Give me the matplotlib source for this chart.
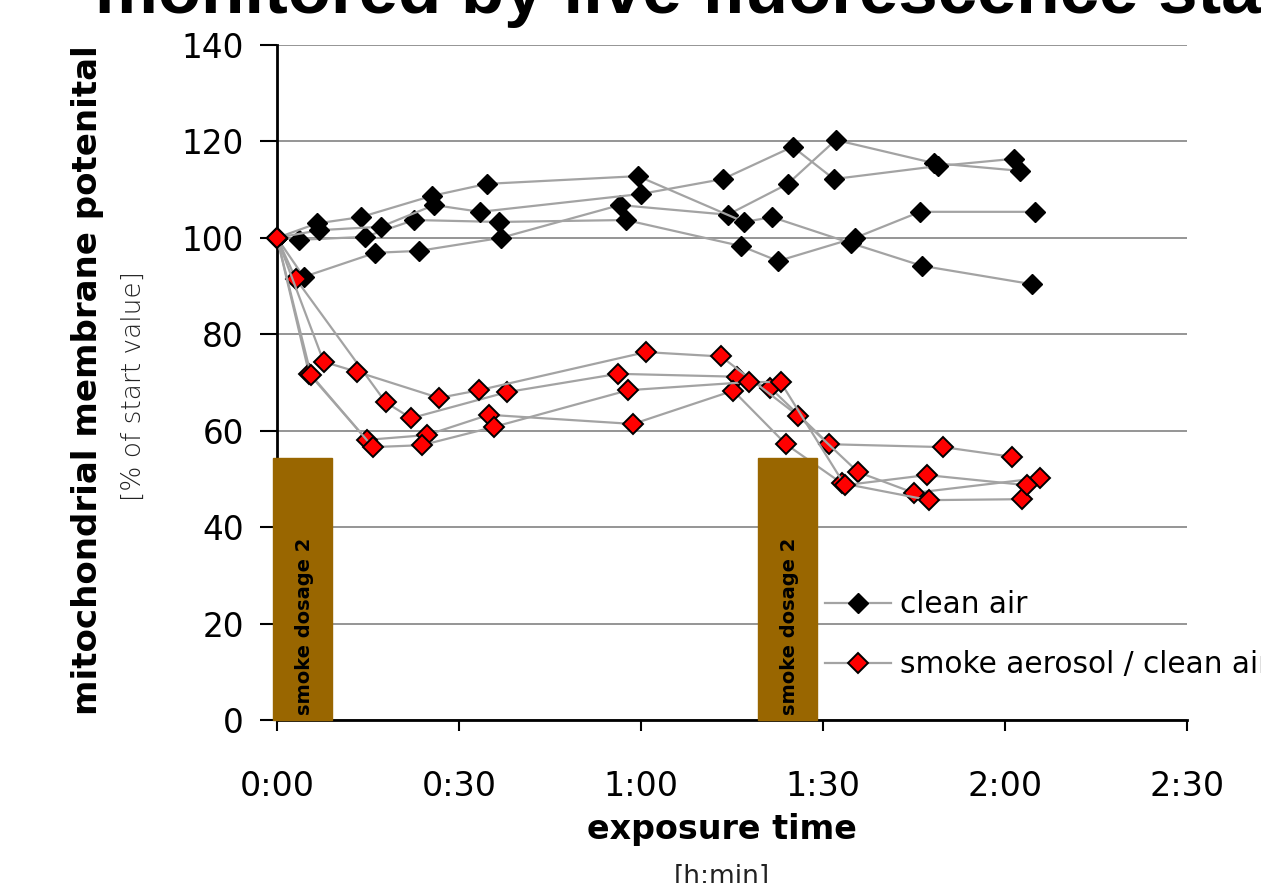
import matplotlib
matplotlib.use('Agg')
import matplotlib.pyplot as plt
from matplotlib.patches import Rectangle

plt.rcParams['font.family'] = ['DejaVu Sans']

# exposure time in minutes, potential in % of start value
clean_t = [
    [0, 4.4, 16.2, 23.4, 36.9, 56.5, 74.3, 84.2, 92.1, 108.3, 122.5],
    [0, 3.6, 14.5, 22.6, 36.6, 57.5, 76.5, 82.6, 95.3, 106.0, 124.9],
    [0, 6.6, 13.8, 25.5, 34.6, 59.5, 77.0, 81.6, 94.6, 106.3, 124.4],
    [0, 7.0, 17.1, 25.9, 33.5, 60.0, 73.5, 85.0, 91.8, 109.0, 121.5],
]
clean_v = [
    [100, 91.9, 96.9, 97.3, 100.0, 106.8, 104.8, 111.2, 120.3, 115.5, 113.9],
    [100, 99.6, 100.2, 103.7, 103.3, 103.7, 98.3, 95.2, 100.0, 105.4, 105.4],
    [100, 103.0, 104.3, 108.7, 111.2, 112.8, 103.3, 104.3, 98.9, 94.2, 90.4],
    [100, 101.6, 102.3, 106.8, 105.4, 109.1, 112.2, 118.9, 112.2, 114.9, 116.4],
]
smoke_t = [
    [0, 3.1, 17.9, 22.1, 37.9, 56.2, 75.8, 81.3, 91.0, 109.8, 121.1],
    [0, 7.7, 13.2, 26.7, 33.3, 60.8, 73.2, 85.9, 95.8, 105.0, 125.8],
    [0, 5.3, 14.8, 24.7, 34.9, 58.7, 75.2, 83.9, 93.1, 107.5, 122.8],
    [0, 5.6, 15.8, 23.9, 35.8, 57.9, 77.8, 83.0, 93.6, 107.1, 123.6],
]
smoke_v = [
    [100, 91.5, 65.9, 62.6, 68.0, 71.8, 71.2, 68.9, 57.2, 56.6, 54.6],
    [100, 74.3, 72.2, 66.8, 68.4, 76.3, 75.4, 63.1, 51.4, 47.1, 50.2],
    [100, 71.8, 58.1, 59.1, 63.3, 61.4, 68.3, 57.2, 49.1, 45.6, 45.8],
    [100, 71.6, 56.6, 57.0, 60.8, 68.4, 70.1, 70.1, 48.7, 50.8, 48.7],
]
# smoke dosage periods (start, end in minutes) and bar height
dosage_start = [-0.7, 79.3]
dosage_end = [9.1, 89.0]
dosage_height = 54.3

x_ticks = [0, 30, 60, 90, 120, 150]
x_labels = ['0:00', '0:30', '1:00', '1:30', '2:00', '2:30']
y_ticks = [0, 20, 40, 60, 80, 100, 120, 140]

line_col = '#a3a3a3'
brown = '#996600'

fig = plt.figure(figsize=(12.61, 8.83), dpi=100)
ax = fig.add_axes([277 / 1261, 1 - 720 / 883, 910 / 1261, 675 / 883])

for t, v in zip(clean_t, clean_v):
    h_clean, = ax.plot(t, v, color=line_col, lw=1.6, marker='D', ms=10.5,
                       mfc='black', mec='black', zorder=3, clip_on=False)
for t, v in zip(smoke_t, smoke_v):
    h_smoke, = ax.plot(t, v, color=line_col, lw=1.6, marker='D', ms=10,
                       mfc='red', mec='black', mew=1.4, zorder=4, clip_on=False)

for s, e in zip(dosage_start, dosage_end):
    ax.add_patch(Rectangle((s, 0), e - s, dosage_height, color=brown,
                           zorder=5, clip_on=False))
    ax.text((s + e) / 2 + 0.4, 1.0, 'smoke dosage 2', rotation=90, ha='center',
            va='bottom', fontsize=14, fontweight='bold', color='black', zorder=6)

ax.set_xlim(0, 150)
ax.set_ylim(0, 140)
ax.set_xticks(x_ticks)
ax.set_xticklabels(x_labels)
ax.set_yticks(y_ticks)
ax.tick_params(axis='x', direction='out', length=8, width=1.5, pad=28, labelsize=24)
ax.tick_params(axis='y', direction='out', length=12, width=1.5, pad=12, labelsize=23.5)
ax.yaxis.grid(True, color='#8c8c8c', lw=1.3)
ax.set_axisbelow(True)
for side in ['top', 'right']:
    ax.spines[side].set_visible(False)
for side in ['left', 'bottom']:
    ax.spines[side].set_linewidth(2)
    ax.spines[side].set_zorder(2.5)

ax.legend([h_clean, h_smoke], ['clean air', 'smoke aerosol / clean air'],
          loc='center left', bbox_to_anchor=(0.602, 0.126), frameon=False,
          fontsize=21.3, handlelength=2.25, handletextpad=0.3, labelspacing=1.05,
          borderpad=0, borderaxespad=0)

fig.text(88 / 1261, 1 - 380 / 883, 'mitochondrial membrane potenital', rotation=90,
         ha='center', va='center', fontsize=24.5, fontweight='bold')
fig.text(133 / 1261, 1 - 386 / 883, '[% of start value]', rotation=90,
         ha='center', va='center', fontsize=19, fontweight='light', color='#222222')
fig.text(722 / 1261, 1 - 830 / 883, 'exposure time', ha='center', va='center',
         fontsize=24, fontweight='bold')
fig.text(722 / 1261, 1 - 877 / 883, '[h:min]', ha='center', va='center',
         fontsize=19, color='#222222')
fig.text(95 / 1261, 1 - 13 / 883, 'monitored by live fluorescence staining',
         ha='left', va='baseline', fontsize=51, fontweight='bold',
         family='Liberation Sans')

fig.savefig('out.png', dpi=100)
